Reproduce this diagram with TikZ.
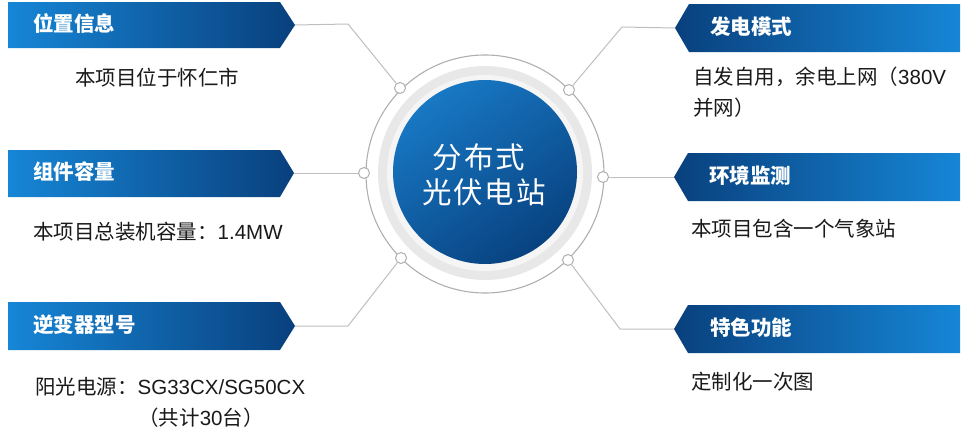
\documentclass[tikz,border=0pt]{standalone}
\usepackage{fontspec}
\setmainfont{Noto Sans CJK SC}
\newfontfamily\lib{Liberation Sans}
\newfontfamily\cjkc[LetterSpace=6]{Noto Sans CJK SC}
\definecolor{bLight}{RGB}{22,134,214}
\definecolor{bDark}{RGB}{9,64,125}
\definecolor{cLight}{RGB}{24,120,196}
\definecolor{cDark}{RGB}{8,66,128}
\definecolor{lineGray}{RGB}{190,190,190}
\definecolor{ringGray}{RGB}{175,175,175}
\definecolor{bandGray}{RGB}{232,232,232}
\definecolor{bodyText}{RGB}{25,25,25}
\tikzset{
  hdr/.style={anchor=west,text=white,font=\fontsize{20.5}{24}\selectfont\bfseries,inner sep=0pt},
  body/.style={anchor=west,text=bodyText,font=\fontsize{20.5}{24}\selectfont,inner sep=0pt},
  dot/.style={circle,draw=ringGray,fill=white,line width=1pt,minimum size=11pt,inner sep=0pt},
  conn/.style={draw=lineGray,line width=1pt},
  lban/.style={left color=bLight,right color=bDark},
  rban/.style={left color=bDark,right color=bLight},
  ctext/.style={text=white,font=\cjkc\fontsize{29.5}{34}\selectfont,inner sep=0pt},
}
\begin{document}
\begin{tikzpicture}[x=1pt,y=-1pt]
\useasboundingbox (0,0) rectangle (966,431);
% banners left
\shade[lban] (8,2) -- (280,2) -- (295,25) -- (280,48) -- (8,48) -- cycle;
\shade[lban] (8,150) -- (280,150) -- (294,173) -- (280,197) -- (8,197) -- cycle;
\shade[lban] (8,302) -- (280,302) -- (295,326) -- (280,350) -- (8,350) -- cycle;
% banners right
\shade[rban] (960,4) -- (689,4) -- (675,28) -- (689,52) -- (960,52) -- cycle;
\shade[rban] (960,153) -- (688,153) -- (674,177) -- (688,201) -- (960,201) -- cycle;
\shade[rban] (960,305) -- (688,305) -- (674,329) -- (688,353) -- (960,353) -- cycle;
\coordinate (tL1) at (295,25);
\coordinate (tL2) at (294,173);
\coordinate (tL3) at (295,326);
\coordinate (tR1) at (675,28);
\coordinate (tR2) at (674,177);
\coordinate (tR3) at (674,329);
\coordinate (bL1) at (348,24);
\coordinate (bL3) at (348,326);
\coordinate (bR1) at (622,27);
\coordinate (bR3) at (620,329);
% center
\node[circle,draw=ringGray,line width=1.1pt,minimum size=238pt,inner sep=0pt] (ring) at (485,174) {};
\fill[bandGray] (485,173) circle (107);
\fill[white!55!bandGray] (485,173) circle (98);
\shade[top color=cLight,bottom color=cDark,shading angle=35] (485,172) circle (92);
\node[ctext] (t1) at (479,157) {分布式};
\node[ctext] (t2) at (484,192) {光伏电站};
% connectors
\node[dot] (dL1) at (400,88) {};
\node[dot] (dL2) at (364,173) {};
\node[dot] (dL3) at (401,258) {};
\node[dot] (dR1) at (569,90) {};
\node[dot] (dR2) at (603,177) {};
\node[dot] (dR3) at (568,260) {};
\draw[conn] (tL1) -- (bL1) -- (dL1);
\draw[conn] (tL2) -- (dL2);
\draw[conn] (tL3) -- (bL3) -- (dL3);
\draw[conn] (tR1) -- (bR1) -- (dR1);
\draw[conn] (tR2) -- (dR2);
\draw[conn] (tR3) -- (bR3) -- (dR3);
% headers
\node[hdr] (h1) at (33,24) {位置信息};
\node[hdr] (h2) at (33,172) {组件容量};
\node[hdr] (h3) at (33,325) {逆变器型号};
\node[hdr] (h4) at (710,27) {发电模式};
\node[hdr] (h5) at (709,176) {环境监测};
\node[hdr] (h6) at (710,328) {特色功能};
% bodies
\node[body,anchor=center] (p1) at (157,78) {本项目位于怀仁市};
\node[body] (p2) at (33,232) {本项目总装机容量：{\lib 1.4MW}};
\node[body] (p3) at (35,387) {阳光电源：{\lib SG33CX/SG50CX}};
\node[body,anchor=center] (p3b) at (201,418) {（共计{\lib 30}台）};
\node[body] (p4) at (693,77) {自发自用，余电上网（{\lib 380V}};
\node[body] (p4b) at (693,108) {并网）};
\node[body] (p5) at (691,229) {本项目包含一个气象站};
\node[body] (p6) at (691,382) {定制化一次图};
\end{tikzpicture}
\end{document}
